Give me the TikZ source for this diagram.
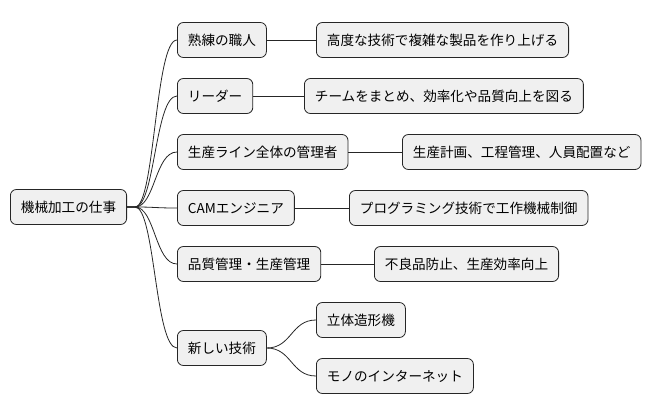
\documentclass[tikz,border=0pt]{standalone}
\usepackage{fontspec}
\setmainfont{Noto Sans CJK JP}
\begin{document}
\begin{tikzpicture}[x=1pt,y=-1pt,
  box/.style={draw=black!85,fill=black!6,rounded corners=6pt,line width=0.8pt,inner xsep=10.5pt,minimum height=35pt,anchor=west,font=\fontsize{13.6}{15}\selectfont},
  con/.style={line width=0.8pt,black!85}]
\useasboundingbox (0,0) rectangle (656,415);
\node[box] (r) at (10,207) {機械加工の仕事};
\node[box] (a) at (177,40) {熟練の職人};
\node[box] (b) at (177,96) {リーダー};
\node[box] (c) at (177,152) {生産ライン全体の管理者};
\node[box] (d) at (177,208) {CAMエンジニア};
\node[box] (e) at (177,264) {品質管理・生産管理};
\node[box] (f) at (177,348) {新しい技術};
\node[box] (a2) at (316,40) {高度な技術で複雑な製品を作り上げる};
\node[box] (b2) at (304,96) {チームをまとめ、効率化や品質向上を図る};
\node[box] (c2) at (402,152) {生産計画、工程管理、人員配置など};
\node[box] (d2) at (349,208) {プログラミング技術で工作機械制御};
\node[box] (e2) at (374,264) {不良品防止、生産効率向上};
\node[box] (f1) at (316,320) {立体造形機};
\node[box] (f2) at (316,376) {モノのインターネット};
\foreach \n in {a,b,c,d,e,f}
  \draw[con] (r.east) -- ++(8,0) .. controls +(20,0) and ([xshift=-22]\n.west) .. (\n.west);
\foreach \p/\q in {a/a2,b/b2,c/c2,d/d2,e/e2}
  \draw[con] (\p.east) -- (\q.west);
\foreach \q in {f1,f2}
  \draw[con] (f.east) .. controls +(25,0) and ([xshift=-25]\q.west) .. (\q.west);
\end{tikzpicture}
\end{document}
